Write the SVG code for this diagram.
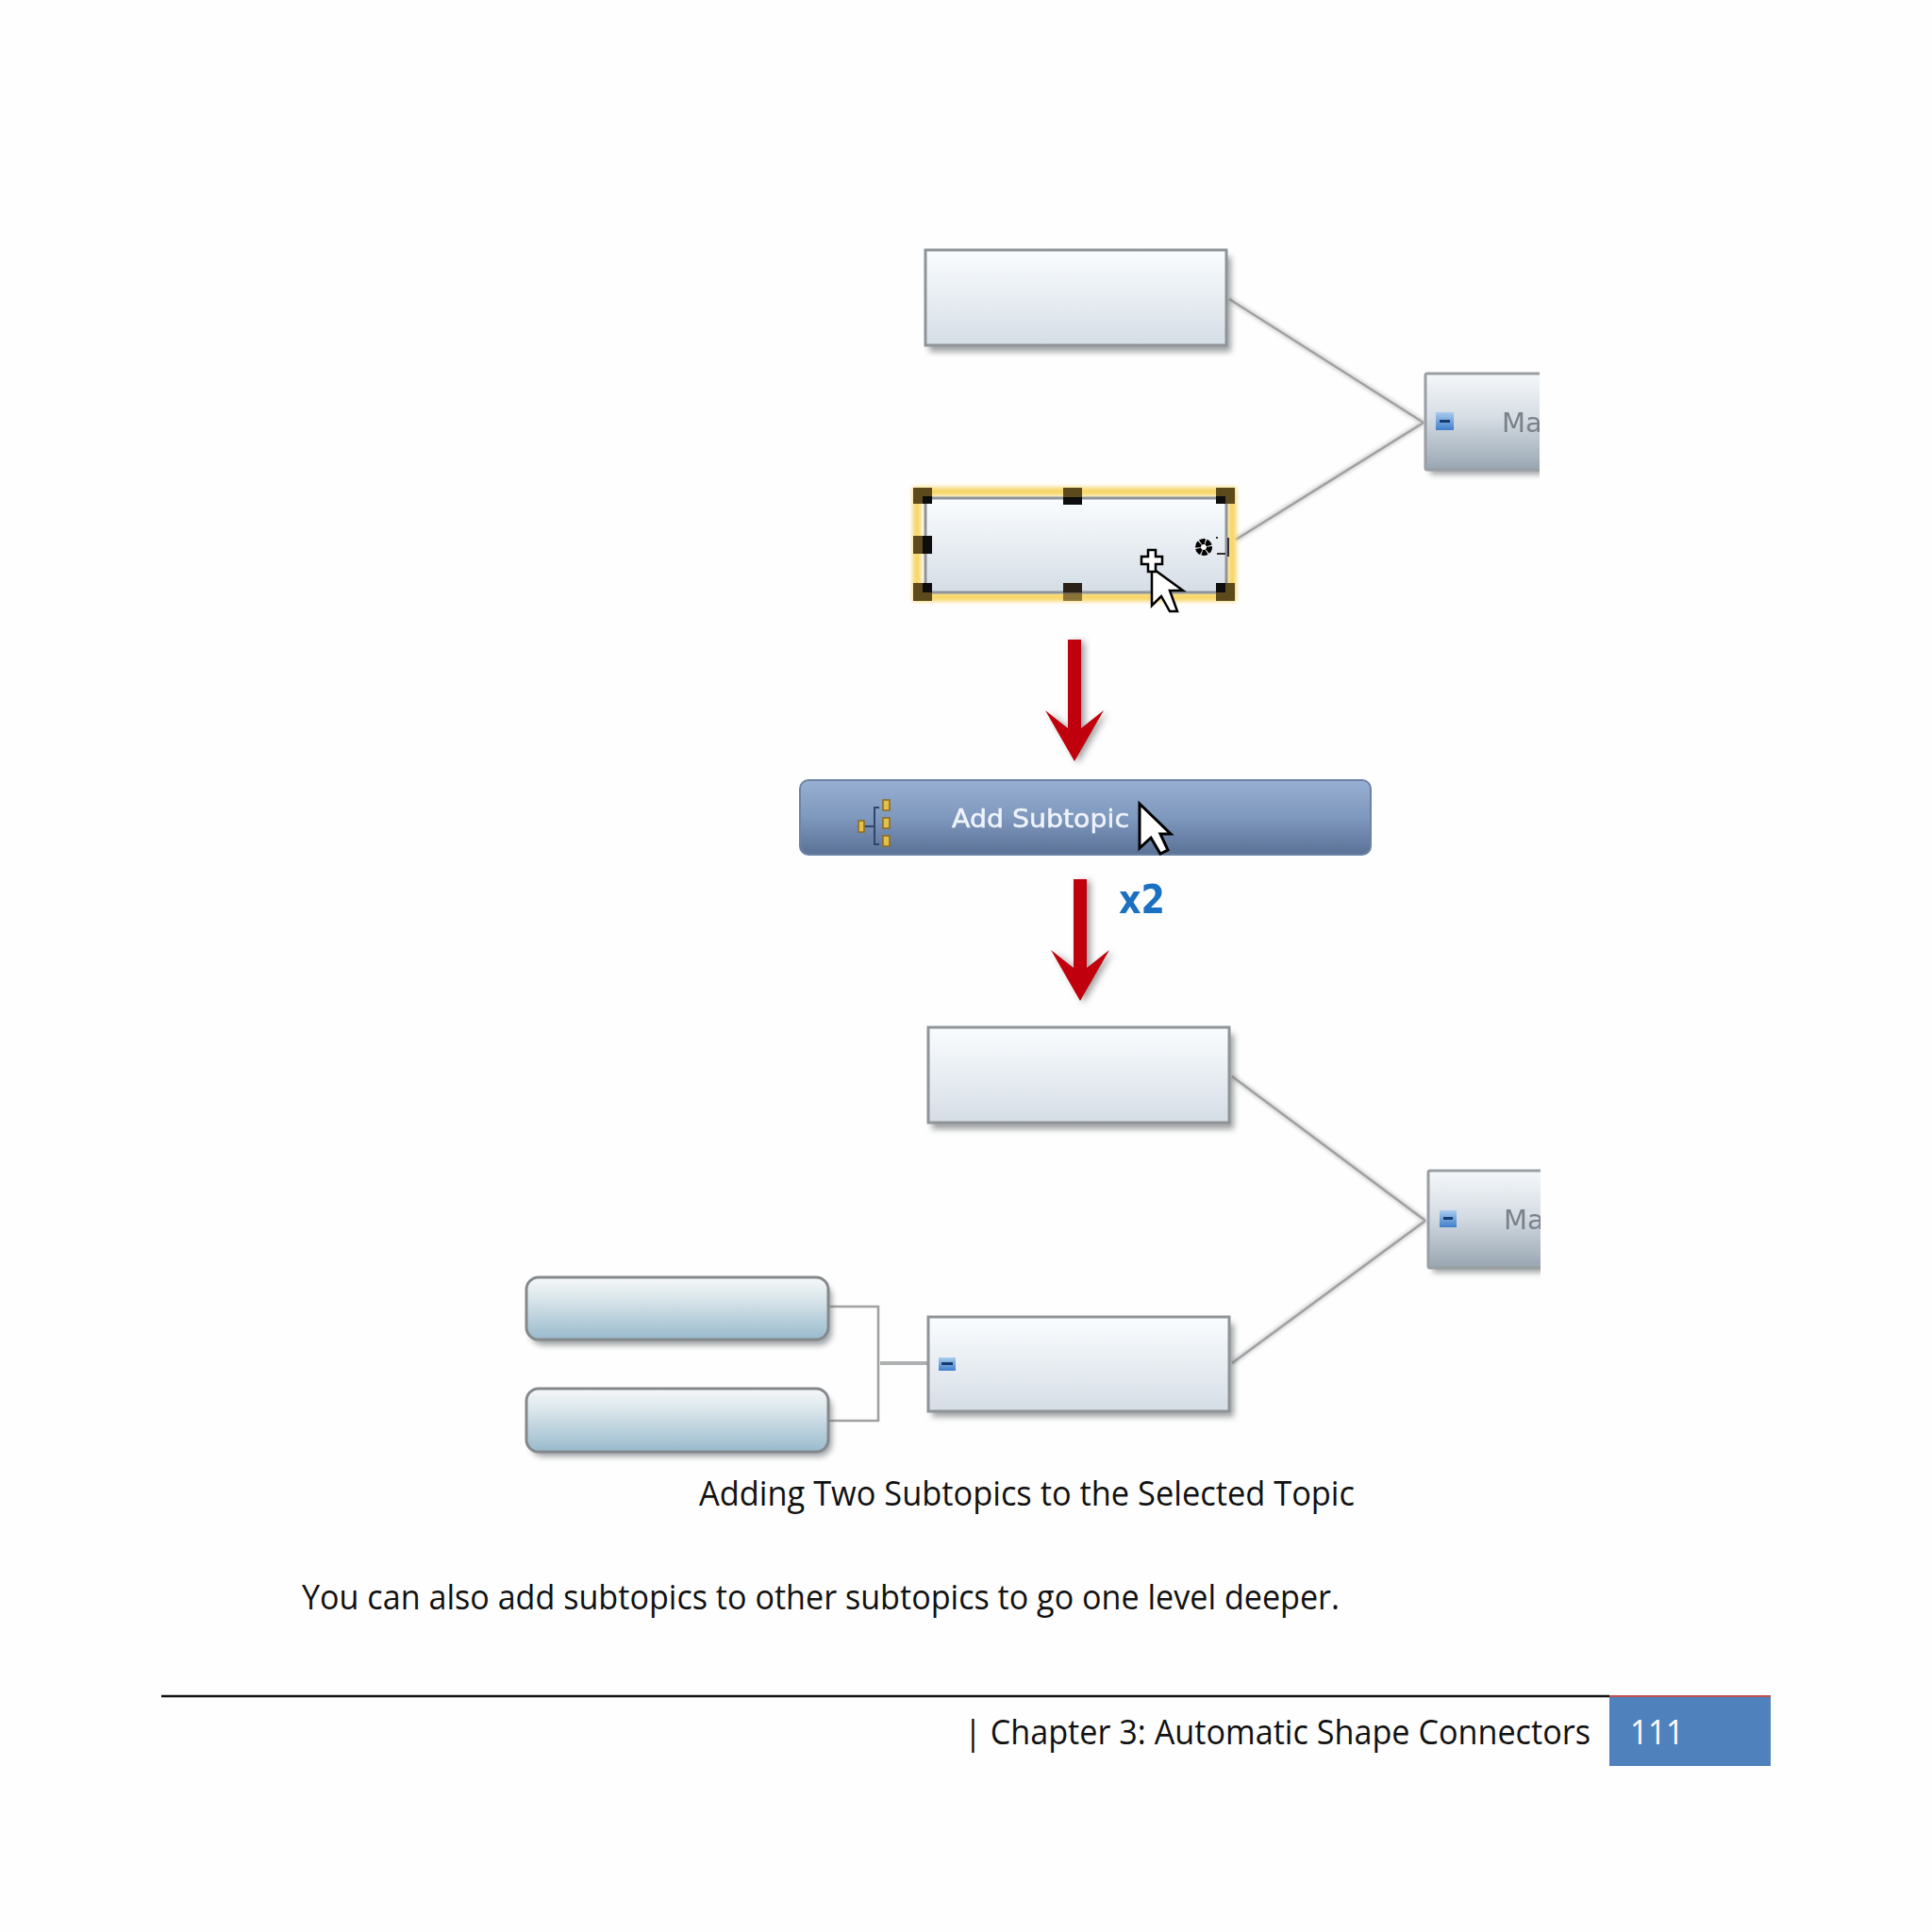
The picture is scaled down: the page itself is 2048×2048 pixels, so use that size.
<svg xmlns="http://www.w3.org/2000/svg" width="2048" height="2048" viewBox="0 0 2048 2048">
<defs>
<linearGradient id="topic" x1="0" y1="0" x2="0" y2="1"><stop offset="0" stop-color="#fafdff"/><stop offset="1" stop-color="#d5dde5"/></linearGradient>
<linearGradient id="main" x1="0" y1="0" x2="0" y2="1"><stop offset="0" stop-color="#f5f8fb"/><stop offset="0.45" stop-color="#d6dde4"/><stop offset="1" stop-color="#98a6b2"/></linearGradient>
<linearGradient id="sub" x1="0" y1="0" x2="0" y2="1"><stop offset="0" stop-color="#f6f8f9"/><stop offset="0.35" stop-color="#d9e5ea"/><stop offset="1" stop-color="#98bacd"/></linearGradient>
<linearGradient id="bar" x1="0" y1="0" x2="0" y2="1"><stop offset="0" stop-color="#97afd2"/><stop offset="0.5" stop-color="#7f98bd"/><stop offset="1" stop-color="#5b7197"/></linearGradient>
<linearGradient id="icon" x1="0" y1="0" x2="0" y2="1"><stop offset="0" stop-color="#a9cbef"/><stop offset="1" stop-color="#3f7fcb"/></linearGradient>
<filter id="soft" x="-10%" y="-20%" width="120%" height="140%"><feGaussianBlur stdDeviation="3"/></filter>
<filter id="softer" x="-20%" y="-20%" width="140%" height="140%"><feGaussianBlur stdDeviation="1.5"/></filter>
<filter id="raster" x="-5%" y="-5%" width="110%" height="110%"><feGaussianBlur stdDeviation="0.7"/></filter>
<filter id="glow" x="-10%" y="-15%" width="120%" height="130%"><feGaussianBlur stdDeviation="2"/></filter>
<filter id="ashadow" x="-60%" y="-10%" width="220%" height="120%"><feGaussianBlur stdDeviation="3.5"/></filter>
<clipPath id="clipMain"><rect x="1480" y="380" width="152" height="140"/></clipPath>
<clipPath id="clipMain2"><rect x="1480" y="1225" width="153" height="140"/></clipPath>
<g id="arrowShape"><path d="M-7 0H7V94L31 75L0 129L-31 75L-7 94Z"/></g>
</defs>
<style>
.topic{fill:url(#topic);stroke:#8f9498;stroke-width:3}
.main{fill:url(#main);stroke:#9a9fa3;stroke-width:3}
.sub{fill:url(#sub);stroke:#85898c;stroke-width:3}
.shadow{fill:#6d7276;opacity:.65;filter:url(#soft)}
.conn{fill:none;stroke:#a0a1a2;stroke-width:2.6}
.connhalo{fill:none;stroke:#c4c5c6;stroke-width:7;opacity:.55;filter:url(#softer)}
.hout{fill:#5c4a1c}
.hin{fill:#111}
.doc{font-family:"Open Sans","Noto Sans","Liberation Sans",sans-serif;font-size:36px;fill:#111}
.ui{font-family:"DejaVu Sans","Liberation Sans",sans-serif}
.ma{font-size:29px;fill:#7b8188}
.red{fill:#c00008}
.soft{filter:url(#raster)}
</style>
<rect width="2048" height="2048" fill="#fefefe"/>

<g id="connectors">
<path class="connhalo" d="M1303 317L1509 448M1310 572L1509 448M1306 1141L1511 1294M1306 1445L1511 1294"/>
<path class="conn" d="M1303 317L1509 448M1310 572L1509 448M1306 1141L1511 1294M1306 1445L1511 1294"/>
<path class="conn" d="M878 1385H931V1506H878"/>
<path class="conn" style="stroke-width:4;stroke:#aeb0b1" d="M933 1445H983"/>
</g>

<g id="topic-a">
<rect class="shadow" x="985" y="272" width="320" height="101"/>
<rect class="topic soft" x="981" y="265" width="319" height="101"/>
</g>

<g id="main-a" clip-path="url(#clipMain)">
<rect class="shadow" x="1516" y="403" width="130" height="100"/>
<g class="soft">
<rect class="main" x="1511" y="396" width="140" height="102" rx="2"/>
<rect x="1522" y="437" width="19" height="19" fill="url(#icon)"/><rect x="1526" y="445" width="11" height="3" fill="#123a70"/>
<text class="ui ma" x="1592" y="458">Ma</text>
</g>
</g>

<g id="topic-selected">
<rect x="972" y="521" width="334" height="112" fill="none" stroke="#f8d566" stroke-width="9" filter="url(#glow)"/>
<g class="soft">
<rect class="topic" x="981" y="528" width="319" height="100"/>
<rect class="hout" x="968" y="517" width="20" height="17"/><rect class="hin" x="978" y="526" width="10" height="8"/>
<rect class="hout" x="1127" y="517" width="20" height="10"/><rect class="hin" x="1127" y="527" width="20" height="8"/>
<rect class="hout" x="1289" y="517" width="20" height="17"/><rect class="hin" x="1289" y="526" width="10" height="8"/>
<rect class="hout" x="968" y="568" width="10" height="19"/><rect class="hin" x="978" y="568" width="10" height="19"/>
<rect class="hout" x="968" y="618" width="20" height="19"/><rect class="hin" x="978" y="618" width="10" height="10"/>
<rect class="hin" x="1127" y="618" width="20" height="10" style="fill:#2a2416"/><rect class="hout" x="1127" y="628" width="20" height="9" style="opacity:.7"/>
<rect class="hout" x="1289" y="618" width="20" height="19"/><rect class="hin" x="1289" y="618" width="10" height="10"/>
<circle cx="1276" cy="580" r="6" fill="#fff" stroke="#000" stroke-width="6" stroke-dasharray="5 1"/>
<path d="M1290 569V571M1290 587H1299M1302 570V590" fill="none" stroke="#333" stroke-width="2"/>
<path d="M1221 602V642L1231 632L1240 648H1248L1240 626H1254Z" fill="#fff" stroke="#000" stroke-width="2.5"/>
<path d="M1217 583H1225V590H1232V598H1225V606H1217V598H1210V590H1217Z" fill="#fff" stroke="#000" stroke-width="2.5"/>
</g>
</g>

<g id="arrow-a">
<use href="#arrowShape" x="1143" y="680" fill="#555" opacity=".55" filter="url(#ashadow)"/>
<use href="#arrowShape" x="1139" y="678" class="red soft"/>
</g>

<g id="add-subtopic" class="soft">
<rect x="848" y="827" width="605" height="79" rx="9" fill="url(#bar)" stroke="#6d83a5" stroke-width="2"/>
<path d="M932 895H927V856H932M927 876H917" fill="none" stroke="#33456a" stroke-width="2"/>
<g fill="#e2c04a" stroke="#8a6a20" stroke-width="1.5">
<rect x="910" y="870" width="6" height="12"/>
<rect x="936" y="848" width="7" height="11"/><rect x="936" y="867" width="7" height="11"/><rect x="936" y="886" width="7" height="11"/>
</g>
<text class="ui" x="1009" y="877" font-size="26" fill="#eef3fc" stroke="#eef3fc" stroke-width=".5" textLength="188" lengthAdjust="spacingAndGlyphs">Add Subtopic</text>
<path d="M1208 852V899L1220 888L1230 905L1238 901L1230 884H1241Z" fill="#fff" stroke="#000" stroke-width="3"/>
</g>

<g id="arrow-b">
<use href="#arrowShape" x="1149" y="934" fill="#555" opacity=".55" filter="url(#ashadow)"/>
<use href="#arrowShape" x="1145" y="932" class="red soft"/>
<text class="ui soft" x="1186" y="968" font-size="43" font-weight="700" fill="#1b6fc2" textLength="49" lengthAdjust="spacingAndGlyphs">x2</text>
</g>

<g id="topic-b">
<rect class="shadow" x="988" y="1096" width="320" height="101"/>
<rect class="topic soft" x="984" y="1089" width="319" height="101"/>
</g>

<g id="main-b" clip-path="url(#clipMain2)">
<rect class="shadow" x="1519" y="1248" width="130" height="101"/>
<g class="soft">
<rect class="main" x="1514" y="1241" width="140" height="103" rx="2"/>
<rect x="1526" y="1283" width="18" height="18" fill="url(#icon)"/><rect x="1530" y="1290" width="10" height="3" fill="#123a70"/>
<text class="ui ma" x="1594" y="1303">Ma</text>
</g>
</g>

<g id="topic-c">
<rect class="shadow" x="988" y="1403" width="320" height="99"/>
<g class="soft">
<rect class="topic" x="984" y="1396" width="319" height="100"/>
<rect x="995" y="1439" width="18" height="14" fill="url(#icon)"/><rect x="998" y="1444" width="12" height="3" fill="#123a70"/>
</g>
</g>

<g id="subtopic-a">
<rect class="shadow" x="562" y="1361" width="320" height="65" rx="14"/>
<rect class="sub soft" x="558" y="1354" width="320" height="66" rx="13"/>
</g>
<g id="subtopic-b">
<rect class="shadow" x="562" y="1479" width="320" height="65" rx="14"/>
<rect class="sub soft" x="558" y="1472" width="320" height="67" rx="13"/>
</g>

<g id="page-text">
<text class="doc" x="741" y="1596" textLength="695" lengthAdjust="spacingAndGlyphs">Adding Two Subtopics to the Selected Topic</text>
<text class="doc" x="320" y="1706" textLength="1100" lengthAdjust="spacingAndGlyphs">You can also add subtopics to other subtopics to go one level deeper.</text>
<path d="M171 1798H1706" stroke="#111" stroke-width="2.5"/>
<rect x="1706" y="1799" width="171" height="73" fill="#4f81bd"/>
<path d="M1706 1798H1877" stroke="#c0504d" stroke-width="2"/>
<text class="doc" x="1022" y="1849" textLength="664" lengthAdjust="spacingAndGlyphs">| Chapter 3: Automatic Shape Connectors</text>
<text class="doc" x="1728" y="1849" style="fill:#fff" textLength="57" lengthAdjust="spacingAndGlyphs">111</text>
</g>
</svg>
